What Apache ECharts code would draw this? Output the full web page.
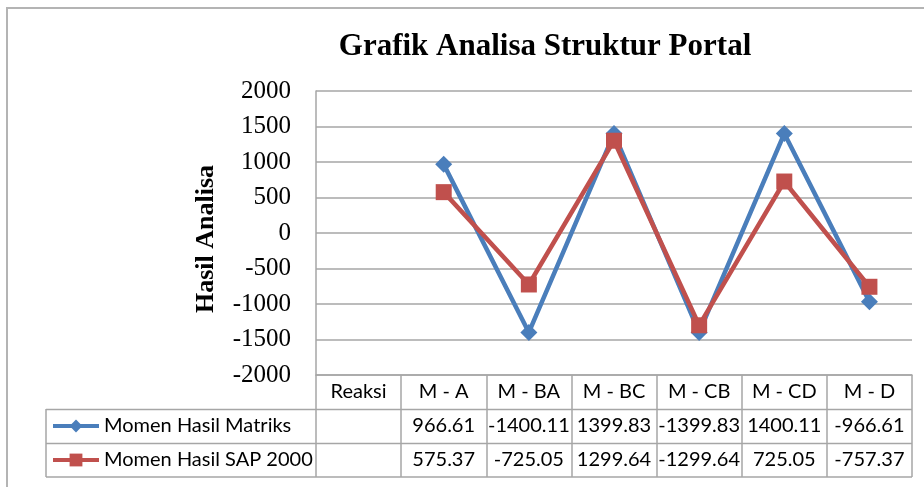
<!DOCTYPE html>
<html>
<head>
<meta charset="utf-8">
<script src="https://cdn.jsdelivr.net/npm/echarts@6/dist/echarts.min.js"></script>
<style>
  html, body { margin: 0; padding: 0; background: #fff; }
  #chart { width: 924px; height: 487px; }
</style>
</head>
<body>
<div id="chart"></div>
<script>
// Categories of the moment points along the portal
const categories = ['Reaksi', 'M - A', 'M - BA', 'M - BC', 'M - CB', 'M - CD', 'M - D'];
// Moments from the matrix method
const momenMatriks = [null, 966.61, -1400.11, 1399.83, -1399.83, 1400.11, -966.61];
// Moments from SAP 2000
const momenSap = [null, 575.37, -725.05, 1299.64, -1299.64, 725.05, -757.37];
// Value axis ticks
const yMin = -2000, yMax = 2000, yStep = 500;

const seriesNames = ['Momen Hasil Matriks', 'Momen Hasil SAP 2000'];
const tableFont = 'Lato';
const tableSize = 20;
const gridGray = '#a6a6a6';

const fmt = v => (v === null ? '' : String(v));

const chart = echarts.init(document.getElementById('chart'), null, { renderer: 'canvas' });

// extra category axes under the plot carry the data-table rows
const rowAxis = (values, offset) => ({
  type: 'category',
  data: values.map(fmt),
  position: 'bottom',
  offset: offset,
  boundaryGap: true,
  axisLine: { show: false, onZero: false },
  axisTick: { show: false },
  splitLine: { show: false },
  axisLabel: { interval: 0, margin: 7, fontFamily: tableFont, fontSize: tableSize, color: '#000' }
});

// one legend box per table row
const rowLegend = (name, top) => ({
  orient: 'vertical',
  left: 51,
  top: top,
  padding: 0,
  itemWidth: 46,
  itemHeight: 16,
  itemGap: 0,
  lineStyle: { width: 4 },
  textStyle: { fontFamily: tableFont, fontSize: tableSize, lineHeight: 22, color: '#000' },
  data: [name]
});

chart.setOption({
  animation: false,
  backgroundColor: '#fff',
  title: {
    text: 'Grafik Analisa Struktur Portal',
    left: 540,
    top: 26,
    textAlign: 'center',
    textStyle: { fontFamily: 'Liberation Serif', fontWeight: 'bold', fontSize: 31, color: '#000' }
  },
  grid: { left: 316, right: 12, top: 91, bottom: 112, containLabel: false },
  legend: [rowLegend(seriesNames[0], 415), rowLegend(seriesNames[1], 449)],
  xAxis: [
    {
      type: 'category',
      data: categories,
      boundaryGap: true,
      axisLine: { show: true, onZero: false, lineStyle: { color: gridGray, width: 1.5 } },
      axisTick: { show: true, interval: 0, length: 102, lineStyle: { color: gridGray, width: 1.5 } },
      axisLabel: { interval: 0, margin: 7, fontFamily: tableFont, fontSize: tableSize, color: '#000' },
      splitLine: { show: false }
    },
    rowAxis(momenMatriks, 34),
    rowAxis(momenSap, 68)
  ],
  yAxis: {
    type: 'value',
    min: yMin,
    max: yMax,
    interval: yStep,
    name: 'Hasil Analisa',
    nameLocation: 'middle',
    nameGap: 97,
    nameTextStyle: { fontFamily: 'Liberation Serif', fontWeight: 'bold', fontSize: 26, color: '#000', padding: [0, 12, 0, 0] },
    axisLine: { show: true, lineStyle: { color: gridGray, width: 1.5 } },
    axisTick: { show: false },
    axisLabel: { margin: 25, fontFamily: 'Liberation Serif', fontSize: 25, color: '#000', formatter: v => String(v) },
    splitLine: { show: true, lineStyle: { color: gridGray, width: 1.5 } }
  },
  series: [
    {
      name: seriesNames[0],
      type: 'line',
      data: momenMatriks,
      symbol: 'diamond',
      symbolSize: 17,
      lineStyle: { color: '#4A7EBB', width: 4.5 },
      itemStyle: { color: '#4A7EBB' },
      z: 2
    },
    {
      name: seriesNames[1],
      type: 'line',
      data: momenSap,
      symbol: 'rect',
      symbolSize: 16,
      lineStyle: { color: '#C0504D', width: 4.5 },
      itemStyle: { color: '#C0504D' },
      z: 3
    }
  ],
  graphic: [
    // chart frame
    { type: 'rect', shape: { x: 7, y: 8, width: 940, height: 500 }, style: { fill: 'none', stroke: '#b4b4b4', lineWidth: 2 }, silent: true },
    // data table rules
    { type: 'line', shape: { x1: 46, y1: 409.5, x2: 912, y2: 409.5 }, style: { stroke: gridGray, lineWidth: 1.5 }, silent: true },
    { type: 'line', shape: { x1: 46, y1: 443.5, x2: 912, y2: 443.5 }, style: { stroke: gridGray, lineWidth: 1.5 }, silent: true },
    { type: 'line', shape: { x1: 46, y1: 477, x2: 912, y2: 477 }, style: { stroke: gridGray, lineWidth: 1.5 }, silent: true },
    { type: 'line', shape: { x1: 46, y1: 409, x2: 46, y2: 477 }, style: { stroke: gridGray, lineWidth: 1.5 }, silent: true }
  ]
});
</script>
</body>
</html>
